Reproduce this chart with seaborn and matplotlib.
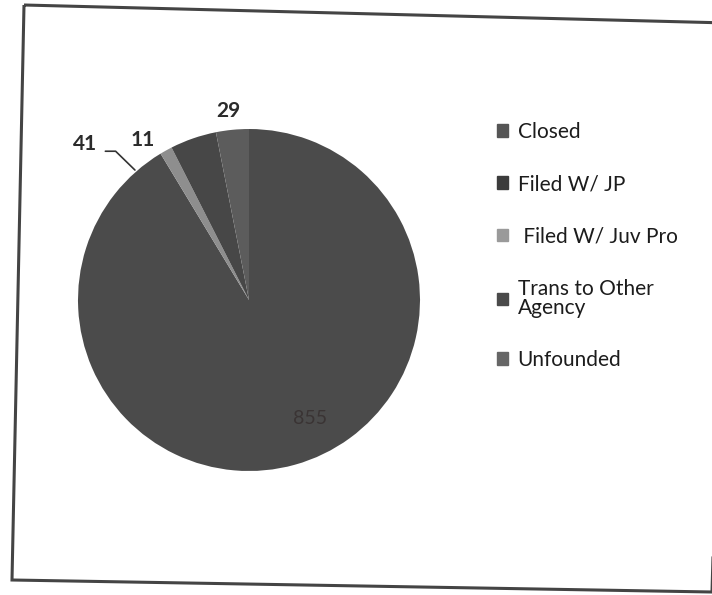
import numpy as np
import matplotlib
matplotlib.use("Agg")
import matplotlib.pyplot as plt
import matplotlib.patches as mpatches
import seaborn as sns

# ── data ──────────────────────────────────────────────────────────────────────
categories = ["Closed", "Filed W/ JP", " Filed W/ Juv Pro", "Trans to Other\nAgency", "Unfounded"]
counts = [855, 0, 11, 41, 29]
slice_colors = ["#4b4b4b", "#3e3e3e", "#8e8e8e", "#474747", "#5c5c5c"]
legend_colors = ["#555555", "#3c3c3c", "#9a9a9a", "#4a4a4a", "#666666"]

sns.set_theme(style="white")
plt.rcParams["font.family"] = ["Lato", "DejaVu Sans"]

W, H = 712, 595
fig = plt.figure(figsize=(W / 100, H / 100), dpi=100)
fig.patch.set_facecolor("white")

# pie axes: centre (249, 300) px, radius 171 px
cx, cy, r = 249, 300, 171
ax = fig.add_axes([(cx - r) / W, (H - cy - r) / H, 2 * r / W, 2 * r / H])
wedges, _ = ax.pie(counts, colors=slice_colors, startangle=90, counterclock=False,
                   radius=1.0, wedgeprops=dict(linewidth=0))
ax.set_xlim(-1, 1)
ax.set_ylim(-1, 1)
ax.set_aspect("equal")
ax.axis("off")

def polar(w, rad):
    a = np.deg2rad((w.theta1 + w.theta2) / 2)
    return rad * np.cos(a), rad * np.sin(a)

# data labels
lab_kw = dict(fontsize=15, color="#2b2b2b", fontweight="bold", ha="center", va="center")
for w, v in zip(wedges, counts):
    if v == 0:
        continue
    if v == 855:
        x, y = polar(w, 0.78)
        ax.text(x + 0.15, y + 0.06, str(v), fontsize=14, color="#3a3434", ha="center", va="center")
    elif v == 41:
        ax.plot([-0.84, -0.78, -0.667], [0.87, 0.87, 0.76], color="#333333", lw=1.2,
                clip_on=False)
        ax.text(-0.96, 0.91, str(v), clip_on=False, **lab_kw)
    elif v == 11:
        x, y = polar(w, 1.16)
        ax.text(x - 0.06, y - 0.08, str(v), clip_on=False, **lab_kw)
    else:
        x, y = polar(w, 1.11)
        ax.text(x - 0.01, y, str(v), clip_on=False, **lab_kw)

# legend
handles = [mpatches.Patch(color=c, label=l) for c, l in zip(legend_colors, categories)]
leg = fig.legend(handles=handles, loc="upper left", bbox_to_anchor=(478 / W, 1 - 103 / H),
                 frameon=False, fontsize=15, handlelength=0.55, handleheight=0.55,
                 handletextpad=0.45, labelspacing=1.55, labelcolor="#1c1c1c")
for t in leg.get_texts():
    t.set_linespacing(0.95)

# scanned page frame (slightly tilted)
frame = mpatches.Polygon([(24 / W, 1 - 5 / H), (728 / W, 1 - 23 / H),
                          (712 / W, 1 - 592 / H), (12 / W, 1 - 580 / H)],
                         closed=True, fill=False, edgecolor="#444444", lw=2.2,
                         transform=fig.transFigure)
fig.patches.append(frame)

fig.savefig("out.png", dpi=100, facecolor="white")
